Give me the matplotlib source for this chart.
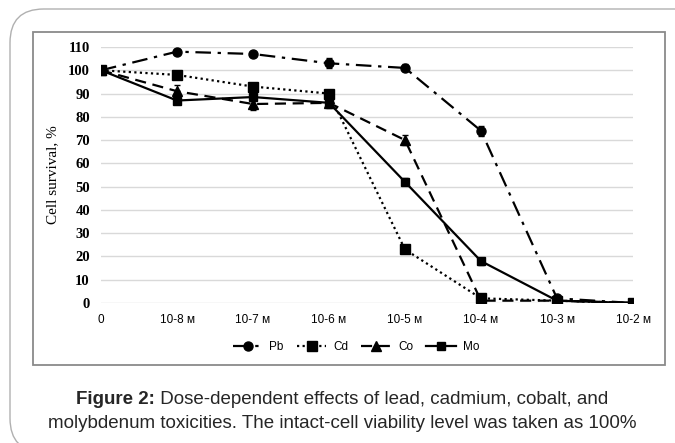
import matplotlib
matplotlib.use("Agg")
import matplotlib.pyplot as plt
from matplotlib.patches import FancyBboxPatch, Rectangle
from matplotlib.lines import Line2D
import numpy as np

categories = ["0", "10-8 м", "10-7 м", "10-6 м", "10-5 м", "10-4 м", "10-3 м", "10-2 м"]
pb = [100, 108, 107, 103, 101, 74, 2, 0]
cd = [100, 98, 93, 90, 23, 2, 1, 0]
co = [100, 91, 85.5, 86, 70, 1, 1, 0]
mo = [100, 87, 88.5, 86, 52, 18, 1, 0]
pb_err = [0, 1, 1, 2.2, 1.5, 2.2, 0.5, 0]
cd_err = [0, 1.2, 1, 1, 1, 1, 0.5, 0]
co_err = [0, 2.5, 2.5, 2, 2, 0.5, 0.5, 0]
mo_err = [0, 1, 1, 1, 1.5, 1.5, 0.5, 0]
yticks = list(range(0, 111, 10))

W, H = 675, 443
fig = plt.figure(figsize=(W / 100, H / 100), dpi=100)
fig.patch.set_facecolor("white")

# outer rounded frame (extends beyond right/bottom edges)
outer = FancyBboxPatch((10 / W, 1 - 452 / H), 700 / W, (452 - 9) / H,
                       boxstyle="round,pad=0,rounding_size=0.05",
                       transform=fig.transFigure, fill=False,
                       edgecolor="#b0b0b0", linewidth=1.0, mutation_aspect=W / H)
fig.patches.append(outer)
# inner chart border
inner = Rectangle((33 / W, 1 - 365 / H), (665 - 33) / W, (365 - 32) / H,
                  transform=fig.transFigure, fill=False,
                  edgecolor="#8a8a8a", linewidth=1.3)
fig.patches.append(inner)

ax = fig.add_axes([101 / W, 1 - 303 / H, (633 - 101) / W, (303 - 47) / H])
x = np.arange(len(categories))
ax.set_xlim(0, len(categories) - 1)
ax.set_ylim(0, 110)
for s in ax.spines.values():
    s.set_visible(False)
ax.set_yticks(yticks)
ax.grid(axis="y", color="#d9d9d9", linewidth=1.0)
ax.set_axisbelow(True)
ax.tick_params(length=0)
ax.set_xticks(x)
ax.set_xticklabels(categories, fontsize=8.5, family="Liberation Sans")
ax.set_yticklabels([str(v) for v in yticks], fontsize=10.5, family="Liberation Serif", fontweight="bold")
ax.tick_params(axis="x", pad=8)
ax.tick_params(axis="y", pad=8)
ax.set_ylabel("Cell survival, %", fontsize=11, family="Liberation Serif", labelpad=6)

lw = 1.6
styles = [
    (pb, pb_err, "Pb", dict(marker="o", ms=6.5, dashes=(7, 3, 1.5, 3))),
    (cd, cd_err, "Cd", dict(marker="s", ms=6.5, dashes=(1, 1.5))),
    (co, co_err, "Co", dict(marker="^", ms=6.5, dashes=(5, 3))),
    (mo, mo_err, "Mo", dict(marker="s", ms=5.5, linestyle="-")),
]
handles = []
for vals, err, lab, st in styles:
    ax.errorbar(x, vals, yerr=err, color="black", lw=lw, capsize=2.5,
                elinewidth=0.8, zorder=3, **st)
    handles.append(Line2D([], [], color="black", lw=lw, **st))

fig.legend(handles, [s[2] for s in styles], loc="center", bbox_to_anchor=(356 / W, 1 - 347 / H),
           ncol=4, frameon=False, handlelength=2.5,
           columnspacing=1.1, handletextpad=0.6, prop={"family": "Liberation Sans", "size": 8.5})

# caption with bold prefix
fig.canvas.draw()
r = fig.canvas.get_renderer()
cap_font = dict(family="Liberation Sans", fontsize=13.5, color="#262626")
y1 = 1 - 400 / H
t_b = fig.text(0, y1, "Figure 2:", fontweight="bold", va="center", ha="left", **cap_font)
t_n = fig.text(0, y1, " Dose-dependent effects of lead, cadmium, cobalt, and",
               va="center", ha="left", **cap_font)
wb = t_b.get_window_extent(r).width
wn = t_n.get_window_extent(r).width
cx = 342
start = cx - (wb + wn) / 2
t_b.set_x(start / W)
t_n.set_x((start + wb) / W)
fig.text(cx / W, 1 - 424 / H,
         "molybdenum toxicities. The intact-cell viability level was taken as 100%",
         va="center", ha="center", **cap_font)

fig.savefig("out.png", dpi=100)
